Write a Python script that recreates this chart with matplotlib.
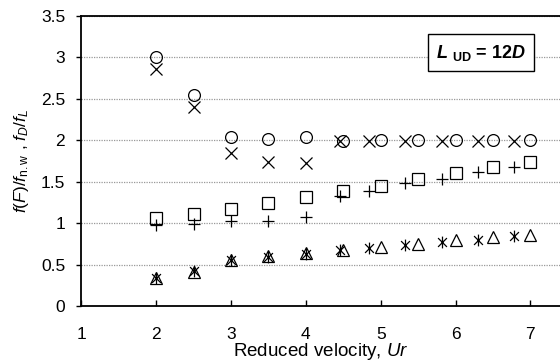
import matplotlib
matplotlib.use("Agg")
import matplotlib.pyplot as plt
from matplotlib.path import Path

plt.rcParams['font.family'] = ['Liberation Sans', 'DejaVu Sans']
plt.rcParams['mathtext.fontset'] = 'custom'
plt.rcParams['mathtext.rm'] = 'Liberation Sans'
plt.rcParams['mathtext.it'] = 'Liberation Sans:italic'
plt.rcParams['mathtext.bf'] = 'Liberation Sans:bold'
plt.rcParams['mathtext.bfit'] = 'Liberation Sans:bold:italic'

# Ur values for the two groups of runs
ur_a = [2, 2.5, 3, 3.5, 4, 4.5, 5, 5.5, 6, 6.5, 7]
ur_b = [2, 2.5, 3, 3.5, 4, 4.45, 4.84, 5.33, 5.82, 6.3, 6.78]

# series
circle_vals = [3.00, 2.55, 2.04, 2.01, 2.04, 1.99, 2.00, 2.00, 2.00, 2.00, 2.00]
square_vals = [1.065, 1.11, 1.165, 1.237, 1.32, 1.39, 1.445, 1.53, 1.60, 1.67, 1.74]
triangle_vals = [0.34, 0.41, 0.555, 0.60, 0.635, 0.675, 0.71, 0.75, 0.79, 0.83, 0.86]
cross_vals = [2.86, 2.40, 1.85, 1.735, 1.73, 1.99, 1.99, 1.99, 1.99, 1.99, 1.99]
plus_vals = [0.98, 0.99, 1.03, 1.024, 1.077, 1.325, 1.39, 1.48, 1.53, 1.61, 1.67]
aster_vals = [0.34, 0.42, 0.56, 0.59, 0.63, 0.68, 0.70, 0.735, 0.77, 0.80, 0.84]

xticks = [1, 2, 3, 4, 5, 6, 7]
yticks = [0, 0.5, 1, 1.5, 2, 2.5, 3, 3.5]
ytick_labels = ['0', '0.5', '1', '1.5', '2', '2.5', '3', '3.5']

# asterisk = x with a vertical stroke
asterisk = Path([(0, -1), (0, 1), (-0.75, -0.75), (0.75, 0.75), (-0.75, 0.75), (0.75, -0.75)],
                [Path.MOVETO, Path.LINETO] * 3)

fig = plt.figure(figsize=(5.6, 3.63), dpi=100)
ax = fig.add_axes([0.145, 0.157, 0.857, 0.7997])

ax.yaxis.grid(True, color='#999999', linestyle=(0, (1, 1)), linewidth=0.9)
ax.set_axisbelow(True)

mk = dict(linestyle='none', color='black', markersize=8.5, markeredgewidth=0.9)
ax.plot(ur_a, circle_vals, marker='o', markerfacecolor='none', **mk)
ax.plot(ur_a, square_vals, marker='s', markerfacecolor='none', **mk)
ax.plot(ur_a, triangle_vals, marker='^', markerfacecolor='none', **mk)
ax.plot(ur_b, cross_vals, marker='x', **mk)
ax.plot(ur_b, plus_vals, marker='+', **mk)
ax.plot(ur_b, aster_vals, marker=asterisk, **mk)

ax.set_xlim(1, 7.41)
ax.set_ylim(0, 3.5)
ax.set_xticks(xticks)
ax.set_yticks(yticks)
ax.set_yticklabels(ytick_labels)
ax.tick_params(axis='x', direction='in', length=4, width=1, labelsize=12.5, pad=15)
ax.tick_params(axis='y', direction='out', length=3.5, width=1, labelsize=12.5, pad=8)

for s in ['left', 'bottom', 'top']:
    ax.spines[s].set_linewidth(1.3)
ax.spines['right'].set_visible(False)

ax.set_xlabel('Reduced velocity, $Ur$', fontsize=13.5)
ax.xaxis.set_label_coords(0.5, -0.122)
ax.set_ylabel(r'$f$($F$)/$f$$_{\mathrm{n.w}}$ , $f_D$/$f_L$', fontsize=12.5, labelpad=7)

ax.text(0.833, 0.873, r'$\mathbfit{L}$ $_{\mathbf{UD}}$ = 12$\mathbfit{D}$',
        transform=ax.transAxes, ha='center', va='center', fontsize=13,
        fontweight='bold',
        bbox=dict(boxstyle='square,pad=0.45', facecolor='white', edgecolor='black', linewidth=1))

plt.savefig('out.png', dpi=100)
